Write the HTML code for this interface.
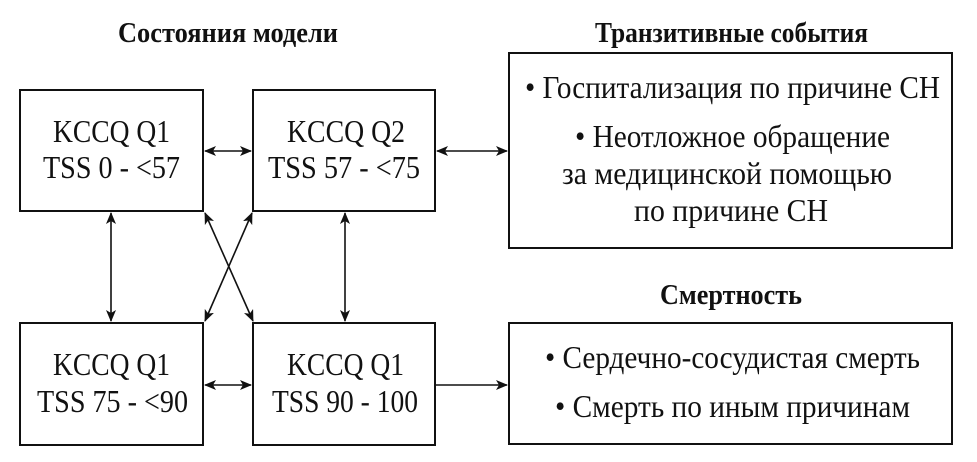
<!DOCTYPE html>
<html><head><meta charset="utf-8"><style>
html,body{margin:0;padding:0;background:#fff;}
svg{display:block;}
text{font-family:"Liberation Serif",serif;fill:#111;}
.b{font-size:32px;}
.h{font-size:28px;font-weight:bold;}
</style></head><body>
<svg width="977" height="462" viewBox="0 0 977 462" xmlns="http://www.w3.org/2000/svg">
<defs>
<marker id="a" viewBox="0 0 12 10" refX="11" refY="5" markerWidth="12" markerHeight="10" markerUnits="userSpaceOnUse" orient="auto-start-reverse">
<path d="M0,0 L12,5 L0,10 L3,5 Z" fill="#111"/>
</marker>
</defs>
<g fill="none" stroke="#111" stroke-width="2">
<rect x="20" y="90" width="183" height="121"/>
<rect x="253" y="90" width="182" height="121"/>
<rect x="20" y="323" width="183" height="122"/>
<rect x="253" y="323" width="182" height="122"/>
<rect x="509" y="53" width="443" height="195"/>
<rect x="509" y="323" width="443" height="121"/>
</g>
<g stroke="#111" stroke-width="1.6" marker-start="url(#a)" marker-end="url(#a)">
<line x1="205" y1="151" x2="251" y2="151"/>
<line x1="437" y1="151" x2="507" y2="151"/>
<line x1="205" y1="385" x2="251" y2="385"/>
<line x1="111" y1="213" x2="111" y2="321"/>
<line x1="345" y1="213" x2="345" y2="321"/>
<line x1="205" y1="213" x2="253" y2="321"/>
<line x1="252" y1="213" x2="205" y2="321"/>
</g>
<line x1="436" y1="385" x2="507" y2="385" stroke="#111" stroke-width="1.6" marker-end="url(#a)"/>

<text class="h" x="118" y="42" textLength="220" lengthAdjust="spacingAndGlyphs">Состояния модели</text>
<text class="h" x="595" y="42" textLength="273" lengthAdjust="spacingAndGlyphs">Транзитивные события</text>
<text class="h" x="660" y="304" textLength="142" lengthAdjust="spacingAndGlyphs">Смертность</text>

<text class="b" x="53" y="142" textLength="117" lengthAdjust="spacingAndGlyphs">KCCQ Q1</text>
<text class="b" x="43" y="178" textLength="137" lengthAdjust="spacingAndGlyphs">TSS 0 - &lt;57</text>
<text class="b" x="287" y="142" textLength="118" lengthAdjust="spacingAndGlyphs">KCCQ Q2</text>
<text class="b" x="268" y="178" textLength="152" lengthAdjust="spacingAndGlyphs">TSS 57 - &lt;75</text>
<text class="b" x="53" y="375" textLength="117" lengthAdjust="spacingAndGlyphs">KCCQ Q1</text>
<text class="b" x="37" y="412" textLength="151" lengthAdjust="spacingAndGlyphs">TSS 75 - &lt;90</text>
<text class="b" x="287" y="375" textLength="117" lengthAdjust="spacingAndGlyphs">KCCQ Q1</text>
<text class="b" x="272" y="412" textLength="146" lengthAdjust="spacingAndGlyphs">TSS 90 - 100</text>

<text class="b" x="525" y="98" textLength="415" lengthAdjust="spacingAndGlyphs">• Госпитализация по причине СН</text>
<text class="b" x="575" y="147" textLength="315" lengthAdjust="spacingAndGlyphs">• Неотложное обращение</text>
<text class="b" x="562" y="184" textLength="330" lengthAdjust="spacingAndGlyphs">за медицинской помощью</text>
<text class="b" x="634" y="221" textLength="194" lengthAdjust="spacingAndGlyphs">по причине СН</text>
<text class="b" x="545" y="368" textLength="375" lengthAdjust="spacingAndGlyphs">• Сердечно-сосудистая смерть</text>
<text class="b" x="555" y="417" textLength="355" lengthAdjust="spacingAndGlyphs">• Смерть по иным причинам</text>
</svg>
</body></html>
